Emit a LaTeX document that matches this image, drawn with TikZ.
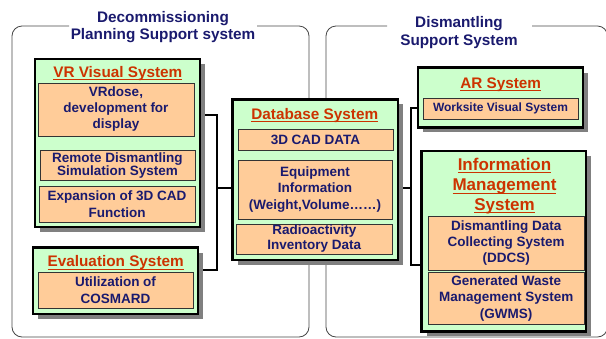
\documentclass[tikz,border=0pt]{standalone}
\usepackage{fontspec}
\setmainfont{Liberation Sans}
\usetikzlibrary{shadows}
\definecolor{navy}{RGB}{26,26,110}
\definecolor{ttlred}{RGB}{204,51,0}
\definecolor{boxgreen}{RGB}{204,255,204}
\definecolor{peach}{RGB}{255,204,153}
\definecolor{shadowgray}{RGB}{128,128,128}
\definecolor{framegray}{RGB}{70,70,70}
\newcommand\ulx[1]{\setbox0\hbox{#1}\leavevmode\rlap{\rule[-2.8pt]{\wd0}{1pt}}\box0}
\pgfdeclarelayer{bg}
\pgfsetlayers{bg,main}
\begin{document}
\begin{tikzpicture}[x=1pt,y=-1pt,
  outerbox/.style={draw=black, line width=2.5pt, fill=boxgreen, inner sep=0pt,
    drop shadow={shadow xshift=5pt, shadow yshift=-5pt, fill=shadowgray, opacity=1}},
  innerbox/.style={draw=black!80, line width=0.8pt, fill=peach, inner sep=0pt, align=center,
    text=navy, font=\fontsize{13.5}{16}\selectfont\bfseries},
  ttl/.style={text=ttlred, font=\fontsize{15.3}{17}\selectfont\bfseries, inner sep=0pt, anchor=base},
  grouptitle/.style={text=navy, align=center, inner sep=0pt},
  conn/.style={draw=black, line width=2pt},
  frame/.style={draw=framegray, line width=0.8pt, rounded corners=10pt}]
\useasboundingbox (0,0) rectangle (606,338);

% group titles
\node[grouptitle, font=\fontsize{15.3}{16.6}\selectfont\bfseries] (gl) at (163,27.1) {Decommissioning\\Planning Support system};
\node[grouptitle, font=\fontsize{15.3}{17.7}\selectfont\bfseries] (gr) at (459,32.2) {Dismantling\\Support System};

% outer boxes
\node[outerbox, minimum width=165pt, minimum height=168pt] (vr) at (117.5,143.2) {};
\node[outerbox, minimum width=165pt, minimum height=66.5pt] (ev) at (115.5,280.9) {};
\node[outerbox, minimum width=165.3pt, minimum height=160.5pt] (db) at (315.3,179.5) {};
\node[outerbox, minimum width=165pt, minimum height=59.8pt] (ar) at (500.5,97.5) {};
\node[outerbox, minimum width=164.3pt, minimum height=180.5pt] (inf) at (503.8,241.2) {};

% titles
\node[ttl] (vrt) at (117.8,77) {\ulx{VR Visual System}};
\node[ttl] (evt) at (115.7,266.7) {\ulx{Evaluation System}};
\node[ttl] (dbt) at (314.8,119.3) {\ulx{Database System}};
\node[ttl] (art) at (500.7,88.3) {\ulx{AR System}};
\node[ttl, font=\fontsize{17}{20}\selectfont\bfseries] (inft1) at (504.5,170) {\ulx{Information}};
\node[ttl, font=\fontsize{17}{20}\selectfont\bfseries] (inft2) at (504.5,190.7) {\ulx{Management}};
\node[ttl, font=\fontsize{17}{20}\selectfont\bfseries] (inft3) at (504.5,210) {\ulx{System}};

% inner boxes
\node[innerbox, minimum width=156pt, minimum height=53pt] (vr1) at (116,109.5) {VRdose,\\development for\\display};
\node[innerbox, font=\fontsize{13.5}{13.4}\selectfont\bfseries, minimum width=155pt, minimum height=29.3pt] (vr2) at (117.5,165.3) {Remote Dismantling\\Simulation System};
\node[innerbox, font=\fontsize{13.5}{16.7}\selectfont\bfseries, minimum width=156pt, minimum height=36.7pt] (vr3) at (117,204.3) {Expansion of 3D CAD\\Function};
\node[innerbox, font=\fontsize{13.5}{16.3}\selectfont\bfseries, minimum width=155pt, minimum height=35.3pt] (ev1) at (115.5,290.3) {Utilization of\\COSMARD};
\node[innerbox, minimum width=155pt, minimum height=21.7pt] (db1) at (315.5,139.8) {3D CAD DATA};
\node[innerbox, font=\fontsize{13.5}{16.7}\selectfont\bfseries, minimum width=154pt, minimum height=59pt] (db2) at (315,189.5) {Equipment\\Information\\(Weight,Volume……)};
\node[innerbox, font=\fontsize{13.5}{15}\selectfont\bfseries, minimum width=155.3pt, minimum height=30pt] (db3) at (314.3,239) {Radioactivity\\Inventory Data};
\node[innerbox, font=\fontsize{12}{14}\selectfont\bfseries, minimum width=155pt, minimum height=20.7pt] (ar1) at (500.5,108.7) {Worksite Visual System};
\node[innerbox, font=\fontsize{13.5}{16.3}\selectfont\bfseries, minimum width=155.7pt, minimum height=54pt] (in1) at (506.2,243) {Dismantling Data\\Collecting System\\(DDCS)};
\node[innerbox, font=\fontsize{13.5}{16.6}\selectfont\bfseries, minimum width=155.7pt, minimum height=51.7pt] (in2) at (506.2,298.2) {Generated Waste\\Management System\\(GWMS)};

\begin{pgfonlayer}{bg}
\draw[frame] (69,26) -- (12,26) -- (12,337) -- (309,337) -- (309,26) -- (257,26);
\draw[frame] (387,26) -- (326,26) -- (326,337) -- (607.5,337) -- (607.5,26) -- (532,26);
\coordinate (lj) at (216.7,187.7);
\coordinate (rj) at (411,187.7);
\draw[conn] ([yshift=28.2pt]vr.east) -| (lj) |- ([yshift=10.9pt]ev.east);
\draw[conn] (lj) -- (db.west |- lj);
\draw[conn] (db.east |- rj) -- (rj);
\draw[conn] ([yshift=-10.8pt]ar.west) -| (rj) |- ([yshift=-23.8pt]inf.west);
\end{pgfonlayer}
\end{tikzpicture}
\end{document}
